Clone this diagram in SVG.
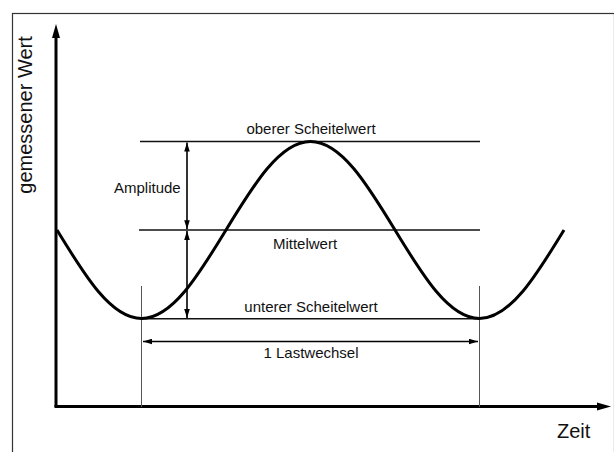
<svg xmlns="http://www.w3.org/2000/svg" width="614" height="452" viewBox="0 0 614 452">
  <defs>
    <style>
      .lbl { font-family: "Liberation Sans", Arial, sans-serif; font-size: 15px; fill: #111; }
      .axl { font-family: "Liberation Sans", Arial, sans-serif; font-size: 20px; fill: #111; }
      .ref { stroke: #111; stroke-width: 1.6; fill: none; }
      .guide { stroke: #555; stroke-width: 1; fill: none; }
      .dim { stroke: #000; stroke-width: 1.6; fill: none; marker-start: url(#ah); marker-end: url(#ah); }
      .axis { stroke: #000; stroke-width: 3; fill: none; }
    </style>
    <marker id="ah" markerUnits="userSpaceOnUse" markerWidth="9" markerHeight="6" refX="9" refY="3" orient="auto-start-reverse">
      <path d="M0,0.2 L9,3 L0,5.8 z" fill="#000"/>
    </marker>
  </defs>

  <rect x="12.5" y="13.5" width="602" height="450" fill="#fff" stroke="#333" stroke-width="1.2"/>

  <g id="axes">
    <line class="axis" x1="56" y1="407" x2="56" y2="36"/>
    <polygon points="56,24 52,38 60,38" fill="#000"/>
    <line class="axis" x1="54.5" y1="406.5" x2="598" y2="406.5"/>
    <polygon points="611,406.5 597,402.5 597,410.5" fill="#000"/>
  </g>

  <g id="guides">
    <line class="guide" x1="141.5" y1="286" x2="141.5" y2="407"/>
    <line class="guide" x1="479.5" y1="286" x2="479.5" y2="407"/>
  </g>

  <g id="levels">
    <line class="ref" x1="140" y1="141.5" x2="480" y2="141.5"/>
    <line class="ref" x1="139" y1="230" x2="480" y2="230"/>
    <line class="ref" x1="141" y1="318.8" x2="480" y2="318.8"/>
  </g>

  <g id="curve">
    <path d="M57,230 C84.56,275.34 110.92,318.5 141.5,318.5 C172.08,318.5 198.44,275.34 226,230 C253.56,184.66 279.92,141.5 310.5,141.5 C341.08,141.5 367.44,184.66 395,230 C422.56,275.34 448.92,318.5 479.5,318.5 C510.08,318.5 536.44,275.34 564,230" fill="none" stroke="#000" stroke-width="3"/>
  </g>

  <g id="connectors">
    <line class="dim" x1="187" y1="142.5" x2="187" y2="229.3"/>
    <line class="dim" x1="187" y1="231" x2="187" y2="318"/>
    <line class="dim" x1="143" y1="341.5" x2="478" y2="341.5"/>
  </g>

  <g id="labels">
    <text class="lbl" x="311" y="134" text-anchor="middle">oberer Scheitelwert</text>
    <text class="lbl" x="305" y="249" text-anchor="middle">Mittelwert</text>
    <text class="lbl" x="311" y="312" text-anchor="middle">unterer Scheitelwert</text>
    <text class="lbl" x="311" y="358" text-anchor="middle">1 Lastwechsel</text>
    <text class="lbl" x="114" y="193">Amplitude</text>
    <text class="axl" x="557" y="438">Zeit</text>
    <text class="axl" transform="translate(32,115) rotate(-90)" text-anchor="middle">gemessener Wert</text>
  </g>
</svg>
